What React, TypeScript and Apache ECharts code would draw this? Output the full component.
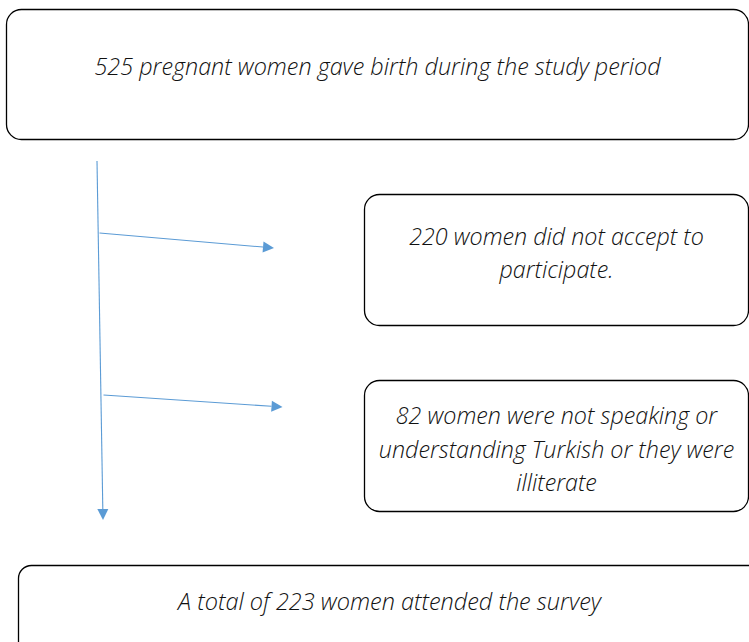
import React, { useEffect, useRef } from "react";
import * as echarts from "echarts";

// Flow counts (women)
const counts = [525, 220, 82, 223];
const boxTexts = [
  `${counts[0]} pregnant women gave birth during the study period`,
  `${counts[1]} women did not accept to\nparticipate.`,
  `${counts[2]} women were not speaking or\nunderstanding Turkish or they were\nilliterate`,
  `A total of ${counts[3]} women attended the survey`,
];

const LINE = "#5B9BD5";
const FONT = "'Open Sans', 'DejaVu Sans', sans-serif";

function arrow(x1: number, y1: number, x2: number, y2: number, head = 11, hw = 5.5) {
  const dx = x2 - x1, dy = y2 - y1;
  const len = Math.sqrt(dx * dx + dy * dy);
  const ux = dx / len, uy = dy / len;
  const bx = x2 - ux * head, by = y2 - uy * head;
  const px = -uy, py = ux;
  return [
    { type: "line", shape: { x1, y1, x2: bx, y2: by }, style: { stroke: LINE, lineWidth: 1.1 } },
    {
      type: "polygon",
      shape: { points: [[x2, y2], [bx + px * hw, by + py * hw], [bx - px * hw, by - py * hw]] },
      style: { fill: LINE },
    },
  ];
}

function box(x: number, y: number, w: number, h: number, r: number) {
  return {
    type: "rect",
    shape: { x, y, width: w, height: h, r },
    style: { fill: "#fff", stroke: "#000", lineWidth: 1.3 },
  };
}

function label(text: string, x: number, y: number, size: number, lh: number, weight: any) {
  return {
    type: "text",
    x,
    y,
    style: {
      text,
      fill: "#111",
      font: `italic ${weight} ${size}px ${FONT}`,
      fontStyle: "italic",
      fontWeight: weight,
      fontSize: size,
      fontFamily: FONT,
      lineHeight: lh,
      align: "center",
      verticalAlign: "middle",
    },
  };
}

export default function App() {
  const ref = useRef<HTMLDivElement>(null);
  useEffect(() => {
    const chart = echarts.init(ref.current!, null, { renderer: "svg" });
    const elements: any[] = [
      box(6.5, 9.5, 742, 130, 15),
      box(364.5, 194.5, 384, 131, 15),
      box(364.5, 380.5, 384, 131, 15),
      box(18.5, 565.5, 743, 90, 13),
      label(boxTexts[0], 377.5, 65.5, 23.4, 28, 300),
      label(boxTexts[1], 556.5, 252, 23.3, 33, 300),
      label(boxTexts[2], 556.5, 448.5, 23.3, 33.5, 300),
      label(boxTexts[3], 389.5, 600.5, 23.5, 28, 300),
      ...arrow(97, 161, 103, 520, 11, 5.5),
      ...arrow(99.5, 233, 274, 248),
      ...arrow(103.5, 395, 282.5, 407),
    ];
    chart.setOption({
      animation: false,
      backgroundColor: "#fff",
      graphic: { elements },
    });
    return () => chart.dispose();
  }, []);
  return (
    <div
      ref={ref}
      style={{ position: "fixed", left: 0, top: 0, width: 749, height: 642 }}
    />
  );
}
